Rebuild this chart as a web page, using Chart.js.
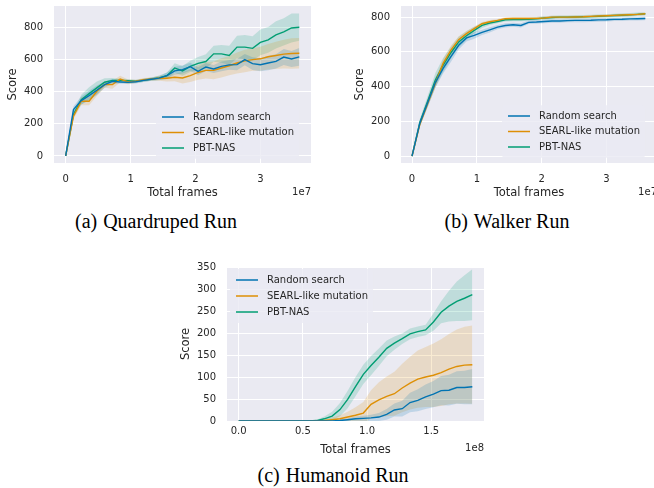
<!DOCTYPE html>
<html>
<head>
<meta charset="utf-8">
<script src="https://cdn.jsdelivr.net/npm/chart.js@4/dist/chart.umd.min.js"></script>
<style>
  html, body { margin: 0; padding: 0; background: #fff; }
  #page { position: relative; width: 654px; height: 488px; overflow: hidden; }
  canvas { position: absolute; }
  .cap { position: absolute; font-family: "Liberation Serif", serif; font-size: 20px; line-height: 20px;
         color: #000; white-space: nowrap; transform: translateX(-50%); }
  .cap .lab { margin-right: 6px; }
</style>
</head>
<body>
<div id="page">
  <canvas id="quad" width="330" height="200" style="left:0;top:0"></canvas>
  <canvas id="walk" width="346" height="200" style="left:330px;top:0"></canvas>
  <canvas id="hum" width="330" height="199" style="left:173px;top:259px"></canvas>
  <div class="cap" style="left:156px;top:211px"><span class="lab">(a)</span>Quardruped Run</div>
  <div class="cap" style="left:507px;top:211px"><span class="lab">(b)</span>Walker Run</div>
  <div class="cap" style="left:333px;top:465px"><span class="lab">(c)</span>Humanoid Run</div>
</div>
<script>
// legend names and colours
const seriesNames = ["Random search", "SEARL-like mutation", "PBT-NAS"];
const seriesColors = ["#0173B2", "#DE8F05", "#029E73"];
const bandColors = ["rgba(1,115,178,0.18)", "rgba(222,143,5,0.18)", "rgba(2,158,115,0.18)"];

// x values: total frames in units of 1e7 (a, b) and 1e8 (c)
const framesAB = [0, 0.12, 0.24, 0.36, 0.48, 0.6, 0.72, 0.84, 0.96, 1.08, 1.2, 1.32, 1.44, 1.56, 1.68, 1.8,
                  1.92, 2.04, 2.16, 2.28, 2.4, 2.52, 2.64, 2.76, 2.88, 3.0, 3.12, 3.24, 3.36, 3.48, 3.6];
const framesC = [0, 0.061, 0.121, 0.182, 0.243, 0.303, 0.364, 0.425, 0.485, 0.546, 0.607, 0.667, 0.728, 0.789,
                 0.849, 0.91, 0.971, 1.031, 1.092, 1.153, 1.213, 1.274, 1.335, 1.395, 1.456, 1.517, 1.577,
                 1.638, 1.699, 1.759, 1.82];

// (a) Quardruped Run: mean score and band half-width
const quadRandom = [0, 289, 345, 376, 409, 444, 465, 461, 458, 462, 471, 478, 485, 500, 530, 538, 556, 527, 554, 542,
                    558, 567, 569, 600, 575, 568, 579, 589, 616, 604, 617];
const quadSearl = [0, 248, 341, 341, 403, 444, 444, 479, 461, 465, 475, 479, 484, 484, 490, 486, 500, 520, 533, 533,
                   548, 562, 579, 592, 600, 605, 618, 626, 634, 638, 640];
const quadPbt = [0, 258, 351, 388, 424, 459, 471, 471, 469, 465, 471, 479, 486, 500, 548, 530, 558, 577, 588, 636,
                 636, 626, 678, 678, 670, 707, 723, 754, 773, 797, 802];
const quadRandomCi = [0, 20, 25, 30, 30, 20, 15, 12, 10, 10, 10, 10, 12, 20, 25, 25, 25, 25, 25, 25, 30, 30, 35, 35,
                      40, 40, 45, 45, 50, 50, 55];
const quadSearlCi = [0, 20, 25, 25, 30, 20, 25, 20, 15, 10, 10, 10, 15, 20, 25, 35, 40, 45, 50, 55, 60, 60, 65, 70,
                     70, 75, 80, 85, 90, 95, 95];
const quadPbtCi = [0, 20, 30, 40, 40, 25, 15, 10, 10, 10, 10, 10, 15, 20, 30, 30, 35, 40, 45, 50, 55, 60, 70, 75,
                   75, 80, 80, 85, 85, 90, 85];

// (b) Walker Run
const walkRandom = [0, 187, 305, 423, 505, 572, 638, 680, 695, 712, 727, 742, 752, 756, 752, 770, 772, 775, 778, 778,
                    780, 781, 781, 782, 784, 785, 787, 788, 790, 791, 792];
const walkSearl = [0, 181, 301, 419, 534, 610, 670, 705, 734, 762, 773, 781, 791, 792, 792, 792, 793, 795, 800, 800,
                   800, 801, 802, 804, 806, 808, 810, 812, 814, 816, 819];
const walkPbt = [0, 194, 314, 438, 524, 595, 657, 693, 724, 752, 766, 775, 785, 786, 786, 787, 790, 795, 798, 800,
                 800, 801, 802, 803, 805, 807, 809, 811, 813, 816, 819];
const walkRandomCi = [0, 15, 25, 30, 30, 30, 25, 20, 20, 15, 15, 12, 12, 12, 12, 10, 10, 10, 10, 10, 10, 10, 10, 10,
                      10, 10, 10, 10, 10, 10, 10];
const walkSearlCi = [0, 15, 20, 25, 25, 25, 20, 15, 12, 10, 10, 8, 8, 8, 8, 8, 8, 8, 8, 8, 8, 8, 8, 8, 8, 8, 8, 8,
                     8, 8, 8];
const walkPbtCi = [0, 20, 30, 40, 40, 35, 30, 25, 20, 15, 12, 10, 10, 10, 10, 10, 10, 10, 10, 10, 10, 10, 10, 10,
                   10, 10, 10, 10, 10, 10, 8];

// (c) Humanoid Run
const humRandom = [0, 0, 0, 0, 0, 0, 0, 0, 0, 0, 0, 0, 0, 1, 3, 5, 6, 7, 9, 15, 25, 28, 42, 47, 55, 61, 69, 70, 76,
                   76, 78];
const humSearl = [0, 0, 0, 0, 0, 0, 0, 0, 0, 0, 0.5, 1, 3, 5, 9, 13, 18, 38, 48, 56, 62, 75, 86, 95, 100, 104, 110,
                  118, 124, 127, 128];
const humPbt = [0, 0, 0, 0, 0, 0, 0, 0, 0, 0, 1, 5, 11, 26, 49, 78, 106, 126, 145, 165, 177, 187, 198, 203, 207, 225,
                247, 261, 272, 279, 287];
const humRandomCi = [0, 0, 0, 0, 0, 0, 0, 0, 0, 0, 0, 0, 0, 2, 3, 5, 6, 7, 9, 12, 15, 18, 22, 25, 28, 30, 33, 35, 37,
                     38, 40];
const humSearlCi = [0, 0, 0, 0, 0, 0, 0, 0, 0, 0, 1, 2, 5, 8, 12, 18, 25, 32, 40, 45, 50, 55, 60, 65, 68, 72, 76, 80,
                    84, 87, 89];
const humPbtCi = [0, 0, 0, 0, 0, 0, 0, 0, 0, 0, 2, 5, 10, 15, 20, 22, 22, 22, 20, 18, 15, 12, 12, 12, 12, 20, 25, 35,
                  45, 52, 58];

// tick values and labels
const xTicksAB = [0, 1, 2, 3];
const xLabelsAB = ["0", "1", "2", "3"];
const yTicksAB = [0, 200, 400, 600, 800];
const xTicksC = [0, 0.5, 1.0, 1.5];
const xLabelsC = ["0.0", "0.5", "1.0", "1.5"];
const yTicksC = [0, 50, 100, 150, 200, 250, 300, 350];

const textColor = "#262626";
Chart.defaults.font.family = "'DejaVu Sans'";

// grey axes background like seaborn darkgrid
const bgPlugin = {
    id: "bg",
    beforeDraw(chart) {
        const { ctx, chartArea: a } = chart;
        ctx.save();
        ctx.fillStyle = "#EAEAF2";
        ctx.fillRect(a.left, a.top, a.width, a.height);
        ctx.restore();
    }
};

// legend inside the axes plus the "1e7" offset text
const innerLegend = {
    id: "innerLegend",
    afterDraw(chart, args, opts) {
        const { ctx, chartArea: a } = chart;
        ctx.save();
        ctx.font = "10px 'DejaVu Sans'";
        const x0 = a.left + opts.dx;
        const y0 = a.top + opts.dy;
        const w = Math.max(...seriesNames.map(n => ctx.measureText(n).width));
        ctx.fillStyle = "rgba(234,234,242,0.8)";
        ctx.beginPath();
        ctx.roundRect(x0 - 6, y0 - opts.gap / 2 - 3, 31 + w + 11, opts.gap * 3 + 6, 3);
        ctx.fill();
        seriesNames.forEach((name, i) => {
            const y = y0 + i * opts.gap;
            ctx.strokeStyle = seriesColors[i];
            ctx.lineWidth = 1.5;
            ctx.beginPath();
            ctx.moveTo(x0, y);
            ctx.lineTo(x0 + 22, y);
            ctx.stroke();
            ctx.fillStyle = textColor;
            ctx.textBaseline = "middle";
            ctx.textAlign = "left";
            ctx.fillText(name, x0 + 31, y);
        });
        ctx.textAlign = "right";
        ctx.fillText(opts.offsetText, a.right, a.bottom + opts.offY);
        ctx.restore();
    }
};

function makeDatasets(frames, means, cis) {
    const sets = [];
    means.forEach((m, s) => {
        const lo = m.map((v, i) => ({ x: frames[i], y: v - cis[s][i] }));
        const hi = m.map((v, i) => ({ x: frames[i], y: v + cis[s][i] }));
        sets.push({ data: lo, borderWidth: 0, pointRadius: 0, fill: false, order: 2 });
        sets.push({ data: hi, borderWidth: 0, pointRadius: 0, fill: "-1", backgroundColor: bandColors[s], order: 2 });
    });
    means.forEach((m, s) => {
        sets.push({
            label: seriesNames[s],
            data: m.map((v, i) => ({ x: frames[i], y: v })),
            borderColor: seriesColors[s],
            borderWidth: 1.4,
            pointRadius: 0,
            fill: false,
            order: 1
        });
    });
    return sets;
}

function makeChart(id, cfg) {
    new Chart(document.getElementById(id), {
        type: "line",
        data: { datasets: makeDatasets(cfg.frames, cfg.means, cfg.cis) },
        plugins: [bgPlugin, innerLegend],
        options: {
            responsive: false,
            animation: false,
            layout: { padding: cfg.padding, autoPadding: false },
            elements: { line: { tension: 0 } },
            plugins: {
                legend: { display: false },
                tooltip: { enabled: false },
                innerLegend: cfg.legend
            },
            scales: {
                x: {
                    type: "linear",
                    bounds: "data",
                    min: cfg.xMin,
                    max: cfg.xMax,
                    afterBuildTicks: s => { s.ticks = cfg.xTicks.map(v => ({ value: v })); },
                    afterFit: s => { s.height = 37; s.paddingLeft = 0; s.paddingRight = 0; },
                    ticks: {
                        padding: cfg.xTickPad,
                        color: textColor,
                        font: { size: 10 },
                        maxRotation: 0,
                        autoSkip: false,
                        callback: (v, i) => cfg.xLabels[i]
                    },
                    grid: { color: "#ffffff", lineWidth: 1, drawTicks: false },
                    border: { display: false },
                    title: {
                        display: true,
                        text: "Total frames",
                        color: textColor,
                        font: { size: 11.5 },
                        padding: { top: 0, bottom: cfg.xTitlePad }
                    }
                },
                y: {
                    type: "linear",
                    bounds: "data",
                    min: cfg.yMin,
                    max: cfg.yMax,
                    afterBuildTicks: s => { s.ticks = cfg.yTicks.map(v => ({ value: v })); },
                    afterFit: s => { s.width = 54; s.paddingTop = 0; s.paddingBottom = 0; },
                    ticks: { padding: 11, color: textColor, font: { size: 10 }, autoSkip: false },
                    grid: { color: "#ffffff", lineWidth: 1, drawTicks: false },
                    border: { display: false },
                    title: {
                        display: true,
                        text: "Score",
                        color: textColor,
                        font: { size: 11.5 },
                        padding: { top: 6.4, bottom: 0 }
                    }
                }
            }
        }
    });
}

makeChart("quad", {
    frames: framesAB,
    means: [quadRandom, quadSearl, quadPbt],
    cis: [quadRandomCi, quadSearlCi, quadPbtCi],
    padding: { left: 0, top: 6, right: 19, bottom: 0 },
    xMin: -0.18, xMax: 3.78, yMin: -44, yMax: 934,
    xTicks: xTicksAB, xLabels: xLabelsAB, yTicks: yTicksAB,
    xTickPad: 10, xTitlePad: 0,
    legend: { dx: 108, dy: 111, gap: 15.5, offsetText: "1e7", offY: 29.5 }
});

makeChart("walk", {
    frames: framesAB,
    means: [walkRandom, walkSearl, walkPbt],
    cis: [walkRandomCi, walkSearlCi, walkPbtCi],
    padding: { left: 17, top: 6, right: 19, bottom: 0 },
    xMin: -0.17, xMax: 3.78, yMin: -40, yMax: 864,
    xTicks: xTicksAB, xLabels: xLabelsAB, yTicks: yTicksAB,
    xTickPad: 10, xTitlePad: 0,
    legend: { dx: 107, dy: 110, gap: 15.5, offsetText: "1e7", offY: 29.5 }
});

makeChart("hum", {
    frames: framesC,
    means: [humRandom, humSearl, humPbt],
    cis: [humRandomCi, humSearlCi, humPbtCi],
    padding: { left: 0, top: 8, right: 19, bottom: 0 },
    xMin: -0.091, xMax: 1.911, yMin: 0, yMax: 350,
    xTicks: xTicksC, xLabels: xLabelsC, yTicks: yTicksC,
    xTickPad: 4, xTitlePad: 1.5,
    legend: { dx: 9, dy: 13, gap: 16, offsetText: "1e8", offY: 27.5 }
});
</script>
</body>
</html>
